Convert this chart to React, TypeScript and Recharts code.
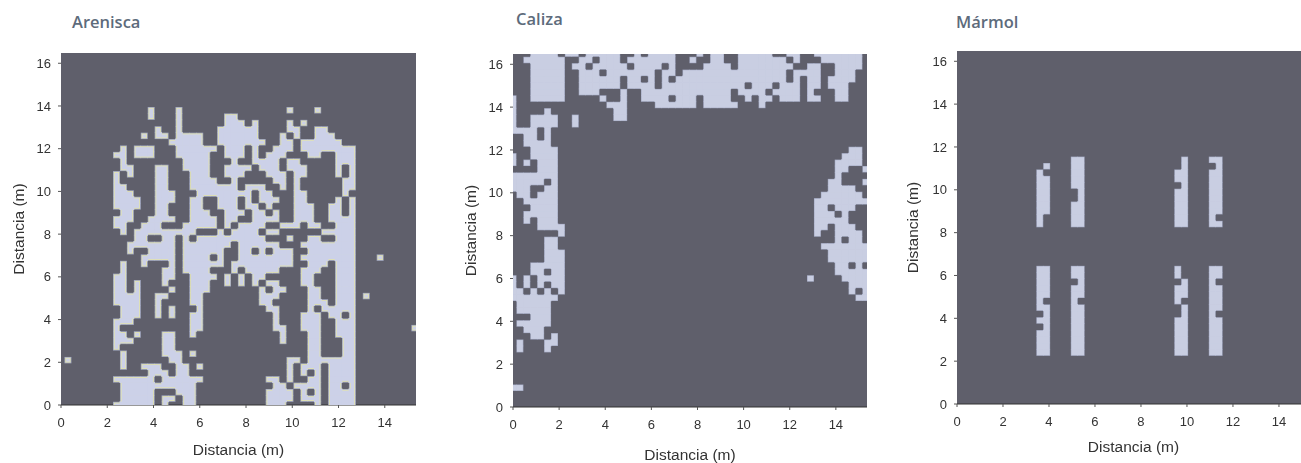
import { ReferenceArea, Scatter, ScatterChart, XAxis, YAxis } from 'recharts';

// grid step of the scan, metres
const STEP = 0.3;
const X_MAX = 15.35;
const Y_MAX = 16.48;
const X_TICKS = [0, 2, 4, 6, 8, 10, 12, 14];
const Y_TICKS = [0, 2, 4, 6, 8, 10, 12, 14, 16];

const DARK = '#5f5f6b';
const LIGHT = '#ccd1e8';
const LIGHT_PALE = '#c9cee2';
const EDGE = '#e2e3b2';
const SOFT = '#a5abc4';

// row index (from the bottom) -> light columns
const areniscaRows: Record<number, string> = {
  46: '13 17 33 37',
  45: '13 17 24-25',
  44: '17 24-26 28 33 35',
  43: '14 17 23-28 33-34 37-38',
  42: '12 14-15 17-20 23-28 32 34 37-39',
  41: '16-20 23-29 32-33 35-40',
  40: '9 11-13 17-22 24-26 28 31-33 35-42',
  39: '8-9 11-13 17-21 24-26 28 30-32 36-37 40-42',
  38: '9 18-21 25 28-31 33-34 40-42',
  37: '9-10 14-15 18-21 24-27 29-31 33-35 40 42',
  36: '8 10 14-15 19-21 24-26 30-32 34-35 40 42',
  35: '8 14-15 19-22 25 31-32 34 41-42',
  34: '8-9 14-15 19-21 22-25 27-29 32 34 41-42',
  33: '8-10 14-16 20-26 27 29-30 34-35 41',
  32: '8-11 14-16 19-20 23-25 27 29-31 34-35 40 42',
  31: '8-11 14-15 19-20 23-25 27-28 30 34-36 39-40 42',
  30: '9-10 14-15 19-21 24-26 28-29 31 34-36 39-40 42',
  29: '8-10 13-16 19-22 24-25 28-31 34-36 39-42',
  28: '8-9 12-14 18-22 24 26-29 32-34 36-37 40-42',
  27: '9 11-19 23 25-28 30-31 38-42',
  26: '11-12 15-16 18 20-29 33 36-37 40-42',
  25: '10-16 18-24 26-31 35-42',
  24: '10 13-16 18-23 26-27 29 31-33 36-42',
  23: '12-16 18-21 23 26-33 35-42 46',
  22: '9 12 16 18-23 25-33 36-38 40-42',
  21: '9 15-16 18-21 25 27-31 35-37 40-42',
  20: '8-9 15-16 19-22 24 26 28-29 35-36 40-42',
  19: '8-9 11 15 19-21 24 26 28 30-31 35-36 40-42',
  18: '8-9 11 16 19-21 29 31-32 36-37 40-42',
  17: '8-11 14-15 19-20 29-31 36-37 40-42 44',
  16: '8-11 14 19-20 29-30 36-38 40-42',
  15: '9-11 14 16 20 30-31 36 38-42',
  14: '9-11 14 16 19-20 31 35-37 39-40 42',
  13: '8-10 19-20 31 35-37 40-42',
  12: '8 19-20 31-32 35-37 40-42 51',
  11: '8-9 11 15-16 19 32 36-37 40-42',
  10: '8-10 15-16 32 36-37 41-42',
  9: '8 15-16 36-37 41-42',
  8: '9 15-17 19 36-37 41-42',
  7: '1 9 16-17 33-34 36-42',
  6: '9 12-14 17-18 20 33 35-37 39-42',
  5: '13-15 17-18 33 35 37 39-42',
  4: '8-13 15-19 20 30-31 33 36-37 39-42',
  3: '9-19 31-32 34-36 37 39-40 42',
  2: '9-13 17-19 30-33 35 37 39-42',
  1: '9-13 15-16 18-19 30-33 35-36 37 39-42',
  0: '8-13 15 18-19 30-32 37 39-42',
};

const calizaRows: Record<number, string> = {
  55: '3-6 8-9 11-15 18 20-23 27 29-30 33-37 40-41 44-50',
  54: '2-7 10-11 13-15 17-23 26 29-30 33-39 41 45-50',
  53: '3-7 9-10 12-16 18-21 23 28-31 33-40 43-44 47-50',
  52: '3-7 10-12 14-20 22-23 25-39 41-44 47-49',
  51: '3-7 10-15 17-18 20 22 24-39 41 43-44 46-49',
  50: '3-7 10-15 17-20 22-33 35-37 39-41 43-44 46-48',
  49: '3-7 10-12 16 19-31 33-36 38-41 43 47-48',
  48: '0 3-7 13 16 19-22 24-26 28-31 34 36-37 39-41 43-44 47-48',
  47: '0 14-16 21-26 28-32 36',
  46: '0 5 15-16',
  45: '0 3-6 9 15-16',
  44: '0 3-6 9',
  43: '0-3 5',
  42: '2-3 5',
  41: '2-5',
  40: '3-6 49-50',
  39: '0 3-6 48-50',
  38: '0 2 4-6 47-50',
  37: '4-6 47-48 51',
  36: '0-6 47',
  35: '0-4 6 46-47 51',
  34: '0-2 5-6 46-49',
  33: '1-2 4-6 45-50',
  32: '2-6 44-51',
  31: '3-6 44-45 47-49',
  30: '2-6 44-46 48',
  29: '2 4-6 44-48',
  28: '4-7 44-45 47-49',
  27: '7 44 47-50',
  26: '5-6 47 49-50',
  25: '5-6 45-51',
  24: '5-7 46-51',
  23: '5-7 46-51',
  22: '3-7 47-48 50',
  21: '3-4 6-7 47-51',
  20: '0 2 4-7 43 48-51',
  19: '0 2 4 6-7 49-51',
  18: '0-1 3 5 7 49 51',
  17: '0-6 50-51',
  16: '1-5',
  15: '1-5',
  14: '3-5',
  13: '1-5',
  12: '2-4',
  11: '3-4 6',
  10: '1 5-6',
  9: '1 5',
  3: '0-1',
};

const marmolRows: Record<number, string> = {
  38: '17-18 33 37-38',
  37: '13 17-18 33 38',
  36: '12 17-18 32-33 37-38',
  35: '12-13 17-18 32-33 37-38',
  34: '12-13 17-18 33 37-38',
  33: '12-13 18 32-33 37-38',
  32: '12-13 18 32-33 37-38',
  31: '12-13 17-18 32-33 37-38',
  30: '12-13 17-18 32-33 37-38',
  29: '12 17-18 32-33 37',
  28: '12 17-18 32-33 37-38',
  21: '12-13 17-18 32 37-38',
  20: '12-13 17-18 32 37-38',
  19: '12-13 18 33 37',
  18: '12-13 17-18 32-33 37-38',
  17: '12-13 17-18 32-33 37-38',
  16: '12 17 32 37-38',
  15: '12-13 17-18 33 37-38',
  14: '13 17-18 33 37',
  13: '12-13 17-18 32-33 37-38',
  12: '13 17-18 32-33 37-38',
  11: '12-13 17-18 32-33 37-38',
  10: '12-13 17-18 32-33 37-38',
  9: '12-13 17-18 32-33 37-38',
  8: '12-13 17-18 32-33 37-38',
};

const toPoints = (rows: Record<number, string>) =>
  Object.entries(rows).flatMap(([row, cols]) =>
    cols.split(' ').flatMap((part) => {
      const [from, to = from] = part.split('-').map(Number);
      const out: { x: number; y: number; k: number; r: number }[] = [];
      for (let k = from; k <= to; k++) {
        out.push({ x: k * STEP, y: Number(row) * STEP, k, r: Number(row) });
      }
      return out;
    })
  );

interface PanelProps {
  title: string;
  titleX: number;
  titleY: number;
  rows: Record<number, string>;
  plotX: number;
  plotY: number;
  plotW: number;
  plotH: number;
  blur: number;
  xLabelOffset: number;
  yLabelOffset: number;
  light: string;
  edge?: string;
}

const AXIS_W = 60;
const AXIS_H = 60;
const tickStyle = { fontSize: 13, fontFamily: 'Liberation Sans', fill: '#333' };
const labelStyle = { fontSize: 15.5, fontFamily: 'Liberation Sans', fill: '#333' };

function Panel({
  title,
  titleX,
  titleY,
  rows,
  plotX,
  plotY,
  plotW,
  plotH,
  blur,
  xLabelOffset,
  yLabelOffset,
  light,
  edge,
}: PanelProps) {
  const points = toPoints(rows);
  const filled = new Set(points.map((p) => `${p.k}:${p.r}`));
  const has = (k: number, r: number) => filled.has(`${k}:${r}`);
  const cellW = (STEP / X_MAX) * plotW;
  const cellH = (STEP / Y_MAX) * plotH;

  // cell with its open sides pulled in, so only the outline of a blob shows the rim
  const cell = (fill: string, inset: number) => (props: any) => {
    const { k, r } = props.payload;
    const l = has(k - 1, r) ? -0.3 : inset;
    const w = has(k + 1, r) ? -0.3 : inset;
    const t = has(k, r + 1) ? -0.3 : inset;
    const b = has(k, r - 1) ? -0.3 : inset;
    return (
      <rect
        x={props.cx - cellW / 2 + l}
        y={props.cy - cellH / 2 + t}
        width={cellW - l - w}
        height={cellH - t - b}
        fill={fill}
      />
    );
  };

  return (
    <>
      <div
        style={{
          position: 'absolute',
          left: titleX,
          top: titleY,
          font: '600 16.5px "Open Sans"',
          color: '#5d6b7b',
          whiteSpace: 'nowrap',
        }}
      >
        {title}
      </div>
      <div
        style={{
          position: 'absolute',
          left: plotX - AXIS_W,
          top: plotY - 6,
          filter: `blur(${blur}px)`,
        }}
      >
        <ScatterChart
          width={AXIS_W + plotW + 2}
          height={plotH + 6 + AXIS_H}
          margin={{ top: 6, right: 2, bottom: 0, left: 0 }}
        >
          <XAxis
            type='number'
            dataKey='x'
            domain={[0, X_MAX]}
            ticks={X_TICKS}
            height={AXIS_H}
            allowDataOverflow
            interval={0}
            axisLine={{ stroke: '#333' }}
            tickLine={{ stroke: '#555' }}
            tickSize={3}
            tickMargin={10}
            tick={tickStyle}
            label={{ value: 'Distancia (m)', position: 'insideTop', offset: xLabelOffset, style: labelStyle }}
          />
          <YAxis
            type='number'
            dataKey='y'
            domain={[0, Y_MAX]}
            ticks={Y_TICKS}
            width={AXIS_W}
            allowDataOverflow
            interval={0}
            axisLine={false}
            tickLine={{ stroke: '#555' }}
            tickSize={3}
            tickMargin={7}
            tick={tickStyle}
            label={{
              value: 'Distancia (m)',
              angle: -90,
              position: 'insideLeft',
              offset: yLabelOffset,
              style: { ...labelStyle, textAnchor: 'middle' },
            }}
          />
          <ReferenceArea x1={0} x2={X_MAX} y1={0} y2={Y_MAX} fill={DARK} fillOpacity={1} stroke='none' />
          <Scatter data={points} isAnimationActive={false} shape={cell(SOFT, 0)} />
          {edge && <Scatter data={points} isAnimationActive={false} shape={cell(edge, 0.8)} />}
          <Scatter data={points} isAnimationActive={false} shape={cell(light, edge ? 1.7 : 0.6)} />
        </ScatterChart>
      </div>
    </>
  );
}

export default function App() {
  return (
    <div
      style={{
        position: 'absolute',
        left: 0,
        top: 0,
        width: 1301,
        height: 463,
        overflow: 'hidden',
        background: '#fff',
      }}
    >
      <Panel title='Arenisca' titleX={72} titleY={10} rows={areniscaRows} plotX={61} plotY={53} plotW={355} plotH={352} blur={0.7} xLabelOffset={39} yLabelOffset={17} light={LIGHT} edge={EDGE} />
      <Panel title='Caliza' titleX={516} titleY={7} rows={calizaRows} plotX={513} plotY={54} plotW={354} plotH={353} blur={0.55} xLabelOffset={42} yLabelOffset={17} light={LIGHT_PALE} />
      <Panel title='Mármol' titleX={956} titleY={10} rows={marmolRows} plotX={957} plotY={51} plotW={353} plotH={353} blur={0.55} xLabelOffset={37} yLabelOffset={15} light={LIGHT_PALE} />
    </div>
  );
}
